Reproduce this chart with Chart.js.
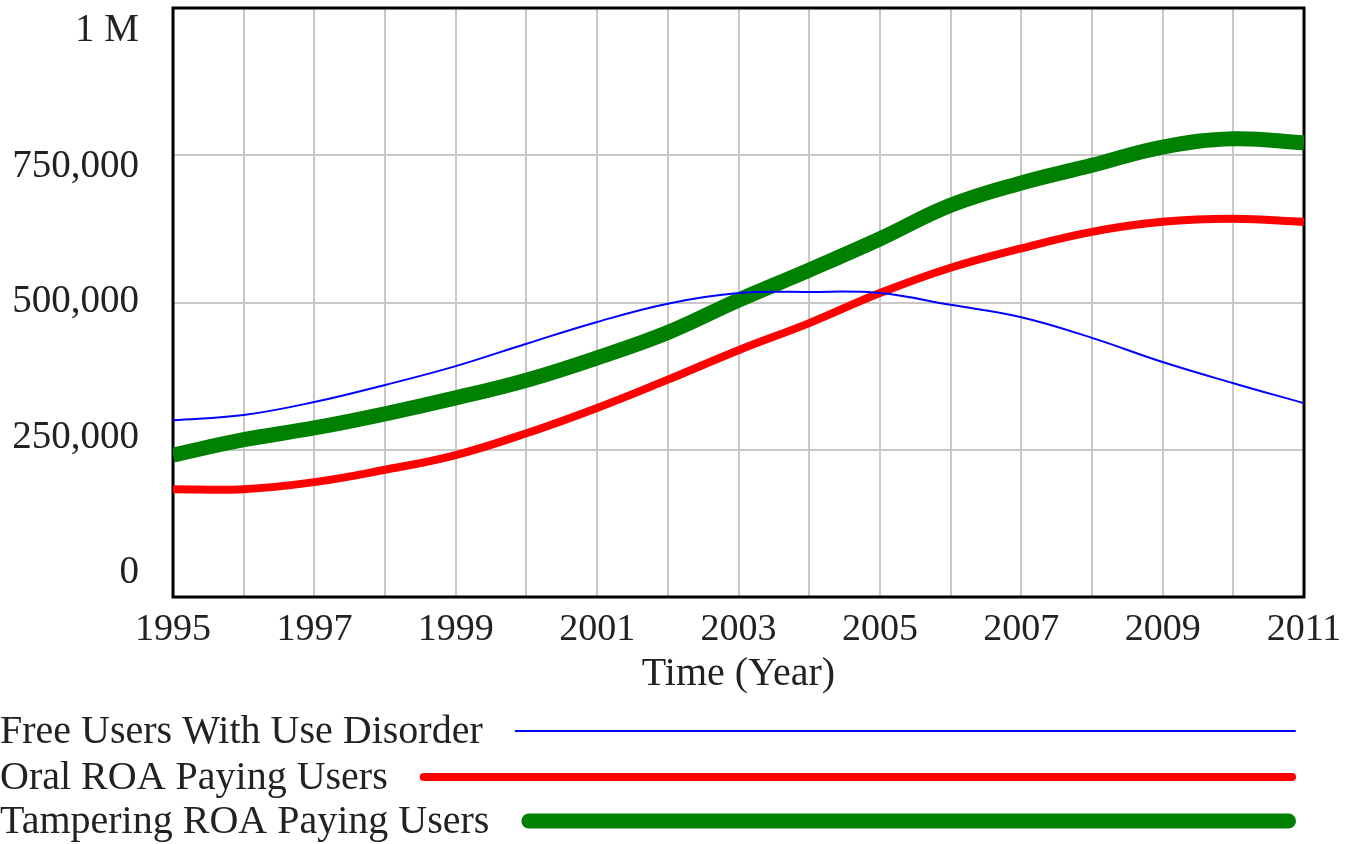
<!DOCTYPE html>
<html>
<head>
<meta charset="utf-8">
<script src="https://cdn.jsdelivr.net/npm/chart.js@4/dist/chart.umd.min.js"></script>
<style>
  html, body { margin: 0; padding: 0; background: #fff; overflow: hidden; }
</style>
</head>
<body>
<canvas id="chart" width="1359" height="844"></canvas>
<script>
// Datos del gráfico
const years = [1995, 1996, 1997, 1998, 1999, 2000, 2001, 2002, 2003, 2004, 2005, 2006, 2007, 2008, 2009, 2010, 2011];
const freeUsers = [300000, 309000, 331000, 360000, 392000, 430000, 467000, 498000, 516000, 518000, 516000, 496000, 475000, 440000, 399000, 363000, 329000];
const oralUsers = [183000, 183000, 195000, 216000, 241000, 278000, 321000, 369000, 419000, 465000, 516000, 559000, 592000, 620000, 637000, 642000, 637000];
const tamperingUsers = [241000, 267000, 287000, 311000, 338000, 368000, 406000, 449000, 504000, 555000, 608000, 665000, 703000, 733000, 764000, 778000, 771000];

const seriesNames = ['Free Users With Use Disorder', 'Oral ROA Paying Users', 'Tampering ROA Paying Users'];
const seriesColors = ['rgb(0,0,255)', 'rgb(255,0,0)', 'rgb(0,128,0)'];
const seriesWidths = [2, 8, 15];

const yTicks = [0, 250000, 500000, 750000, 1000000];
const yTickLabels = ['0', '250,000', '500,000', '750,000', '1 M'];
const xLabelYears = [1995, 1997, 1999, 2001, 2003, 2005, 2007, 2009, 2011];

const serif = '"Liberation Serif", "Times New Roman", serif';
const textColor = '#222';
const gridColor = '#c8c8c8';

function toPoints(values) {
    return years.map((yr, i) => ({ x: yr, y: values[i] }));
}

// Marco negro alrededor del área del gráfico
const framePlugin = {
    id: 'frame',
    beforeDatasetsDraw(chart) {
        const { ctx, chartArea } = chart;
        ctx.save();
        ctx.strokeStyle = '#000';
        ctx.lineWidth = 3;
        ctx.strokeRect(chartArea.left, chartArea.top, chartArea.right - chartArea.left, chartArea.bottom - chartArea.top);
        ctx.restore();
    }
};

// Leyenda estilo Vensim debajo del gráfico
const legendRows = [731, 777, 821];
const legendPlugin = {
    id: 'vensimLegend',
    afterDraw(chart) {
        const ctx = chart.ctx;
        ctx.save();
        ctx.font = '40px ' + serif;
        ctx.textBaseline = 'middle';
        ctx.textAlign = 'left';
        chart.data.datasets.forEach((ds, i) => {
            const y = legendRows[i];
            ctx.fillStyle = textColor;
            ctx.fillText(ds.label, 0, y + 1);
            const w = ctx.measureText(ds.label).width;
            ctx.strokeStyle = ds.borderColor;
            ctx.lineWidth = ds.borderWidth;
            ctx.lineCap = 'round';
            ctx.beginPath();
            ctx.moveTo(w + 32 + ds.borderWidth / 2, y);
            ctx.lineTo(1294 - ds.borderWidth / 2 + 2, y);
            ctx.stroke();
        });
        ctx.restore();
    }
};

const ctx = document.getElementById('chart').getContext('2d');
const chart = new Chart(ctx, {
    type: 'line',
    data: {
        datasets: [freeUsers, oralUsers, tamperingUsers].map((vals, i) => ({
            label: seriesNames[i],
            data: toPoints(vals),
            borderColor: seriesColors[i],
            backgroundColor: seriesColors[i],
            borderWidth: seriesWidths[i],
            pointRadius: 0,
            tension: 0.4,
            fill: false,
            xAxisID: 'x',
            yAxisID: 'y'
        }))
    },
    options: {
        responsive: false,
        animation: false,
        devicePixelRatio: 1,
        layout: { padding: { top: 8, right: 55, bottom: 0, left: 0 } },
        plugins: {
            legend: { display: false },
            tooltip: { enabled: false }
        },
        scales: {
            x: {
                type: 'linear',
                min: 1995,
                max: 2011,
                afterBuildTicks: axis => { axis.ticks = years.map(v => ({ value: v })); },
                ticks: {
                    autoSkip: false,
                    maxRotation: 0,
                    padding: 10,
                    color: textColor,
                    font: { family: serif, size: 38 },
                    callback: v => xLabelYears.includes(v) ? String(v) : ''
                },
                grid: { color: gridColor, lineWidth: 2, drawTicks: false },
                border: { display: false },
                title: {
                    display: true,
                    text: 'Time (Year)',
                    color: textColor,
                    font: { family: serif, size: 40 },
                    padding: { top: 0, bottom: 146 }
                },
                afterFit: axis => { axis.height = 247; axis.paddingLeft = 0; axis.paddingRight = 0; }
            },
            y: {
                type: 'linear',
                position: 'left',
                min: 0,
                max: 1000000,
                afterBuildTicks: axis => { axis.ticks = yTicks.map(v => ({ value: v })); },
                ticks: { display: false },
                grid: { color: gridColor, lineWidth: 2, drawTicks: false },
                border: { display: false },
                afterFit: axis => { axis.width = 0; axis.paddingTop = 0; axis.paddingBottom = 0; }
            },
            // eje solo para las etiquetas (Vensim las reparte entre los bordes)
            yLabels: {
                type: 'linear',
                position: 'left',
                min: -44280,
                max: 1042435,
                afterBuildTicks: axis => { axis.ticks = yTicks.map(v => ({ value: v })); },
                ticks: {
                    padding: 34,
                    color: textColor,
                    font: { family: serif, size: 39 },
                    callback: v => yTickLabels[yTicks.indexOf(v)]
                },
                grid: { display: false, drawTicks: false },
                border: { display: false },
                afterFit: axis => { axis.width = 173; axis.paddingTop = 0; axis.paddingBottom = 0; }
            }
        }
    },
    plugins: [framePlugin, legendPlugin]
});
</script>
</body>
</html>
